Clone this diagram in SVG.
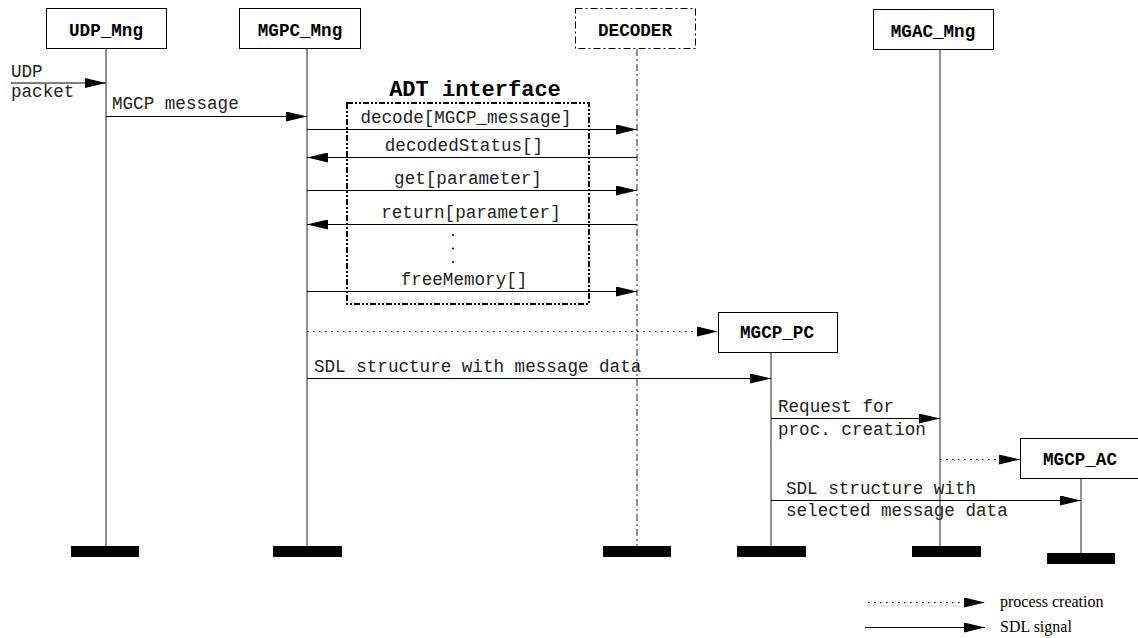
<svg xmlns="http://www.w3.org/2000/svg" width="1138" height="638" viewBox="0 0 1138 638">
  <defs>
    <marker id="arrow" markerUnits="userSpaceOnUse" markerWidth="21" markerHeight="10" refX="21" refY="5" orient="auto">
      <path d="M0,0 L21,5 L0,10 Z" fill="#000"/>
    </marker>
    <style>
      .box { fill: #fff; stroke: #000; stroke-width: 1; }
      .box-adt { fill: #fff; stroke: #000; stroke-width: 1; stroke-dasharray: 7 3 2 3; }
      .name { font-family: "Liberation Mono", "Courier New", monospace; font-size: 17.6px; font-weight: bold; text-anchor: middle; fill: #000; }
      .life { stroke: #222; stroke-width: 1; fill: none; }
      .life-adt { stroke: #222; stroke-width: 1; fill: none; stroke-dasharray: 7 3 2 3; }
      .end { fill: #000; }
      .sig { stroke: #000; stroke-width: 1; fill: none; marker-end: url(#arrow); }
      .create { stroke: #000; stroke-width: 1; fill: none; stroke-dasharray: 1.5 4.5; marker-end: url(#arrow); }
      .lbl { font-family: "Liberation Mono", "Courier New", monospace; font-size: 17.6px; fill: #222; }
      .mid { text-anchor: middle; }
      .legend { font-family: "Liberation Serif", "Times New Roman", serif; font-size: 16px; fill: #000; }
      .frame { fill: none; stroke: #000; stroke-width: 2; stroke-dasharray: 6 2 2 2 2 2; }
      .title { font-family: "Liberation Mono", "Courier New", monospace; font-size: 22px; font-weight: bold; text-anchor: middle; fill: #000; }
    </style>
  </defs>

  <!-- processes -->
  <g id="udp-mng">
    <rect class="box" x="46.5" y="8.5" width="120" height="40"/>
    <text class="name" x="106" y="36">UDP_Mng</text>
    <line class="life" x1="106" y1="49" x2="106" y2="546"/>
    <rect class="end" x="71" y="546" width="68" height="11"/>
  </g>
  <g id="mgpc-mng">
    <rect class="box" x="239.5" y="8.5" width="121" height="40"/>
    <text class="name" x="300" y="36">MGPC_Mng</text>
    <line class="life" x1="307" y1="49" x2="307" y2="546"/>
    <rect class="end" x="273" y="546" width="69" height="11"/>
  </g>
  <g id="decoder">
    <rect class="box-adt" x="575.5" y="8.5" width="120" height="40"/>
    <text class="name" x="635" y="36">DECODER</text>
    <line class="life-adt" x1="637" y1="49" x2="637" y2="546"/>
    <rect class="end" x="603" y="546" width="68" height="11"/>
  </g>
  <g id="mgac-mng">
    <rect class="box" x="873.5" y="9.5" width="120" height="40"/>
    <text class="name" x="933" y="37">MGAC_Mng</text>
    <line class="life" x1="940" y1="50" x2="940" y2="546"/>
    <rect class="end" x="912" y="546" width="69" height="11"/>
  </g>
  <g id="mgcp-pc">
    <rect class="box" x="718.5" y="312.5" width="119" height="40"/>
    <text class="name" x="777" y="338">MGCP_PC</text>
    <line class="life" x1="771" y1="353" x2="771" y2="546"/>
    <rect class="end" x="737" y="546" width="69" height="11"/>
  </g>
  <g id="mgcp-ac">
    <rect class="box" x="1020.5" y="438.5" width="118" height="40"/>
    <text class="name" x="1080" y="465">MGCP_AC</text>
    <line class="life" x1="1081" y1="479" x2="1081" y2="553"/>
    <rect class="end" x="1047" y="553" width="68" height="11"/>
  </g>

  <!-- ADT interface frame -->
  <g id="adt-interface">
    <rect class="frame" x="347" y="103" width="242" height="201"/>
    <text class="title" x="475" y="96">ADT interface</text>
  </g>

  <!-- signals and process creation -->
  <g id="connectors">
    <line class="sig" x1="11" y1="83" x2="106" y2="83"/>
    <text class="lbl" x="11" y="77">UDP</text>
    <text class="lbl" x="11" y="97">packet</text>

    <line class="sig" x1="106" y1="116.5" x2="307" y2="116.5"/>
    <text class="lbl" x="112" y="109">MGCP message</text>

    <line class="sig" x1="307" y1="129.5" x2="637" y2="129.5"/>
    <text class="lbl mid" x="466" y="123">decode[MGCP_message]</text>

    <line class="sig" x1="637" y1="157.5" x2="307" y2="157.5"/>
    <text class="lbl mid" x="464" y="151">decodedStatus[]</text>

    <line class="sig" x1="307" y1="190.5" x2="637" y2="190.5"/>
    <text class="lbl mid" x="468" y="184">get[parameter]</text>

    <line class="sig" x1="637" y1="224.5" x2="307" y2="224.5"/>
    <text class="lbl mid" x="471" y="218">return[parameter]</text>

    <circle cx="453" cy="235" r="1" fill="#000"/>
    <circle cx="453" cy="248.5" r="1" fill="#000"/>
    <circle cx="453" cy="262" r="1" fill="#000"/>

    <line class="sig" x1="307" y1="291.5" x2="637" y2="291.5"/>
    <text class="lbl mid" x="464" y="285">freeMemory[]</text>

    <line class="create" x1="307" y1="331.5" x2="718" y2="331.5"/>

    <line class="sig" x1="307" y1="378.5" x2="771" y2="378.5"/>
    <text class="lbl" x="314" y="372">SDL structure with message data</text>

    <line class="sig" x1="771" y1="418.5" x2="940" y2="418.5"/>
    <text class="lbl" x="778" y="412">Request for</text>
    <text class="lbl" x="778" y="435">proc. creation</text>

    <line class="create" x1="940" y1="459.5" x2="1020" y2="459.5"/>

    <line class="sig" x1="771" y1="500.5" x2="1081" y2="500.5"/>
    <text class="lbl" x="786" y="494">SDL structure with</text>
    <text class="lbl" x="786" y="516">selected message data</text>
  </g>

  <!-- legend -->
  <g id="legend">
    <line class="create" x1="868" y1="602.5" x2="985" y2="602.5"/>
    <text class="legend" x="1000" y="607">process creation</text>
    <line class="sig" x1="865" y1="627.5" x2="985" y2="627.5"/>
    <text class="legend" x="1000" y="632">SDL signal</text>
  </g>
</svg>
